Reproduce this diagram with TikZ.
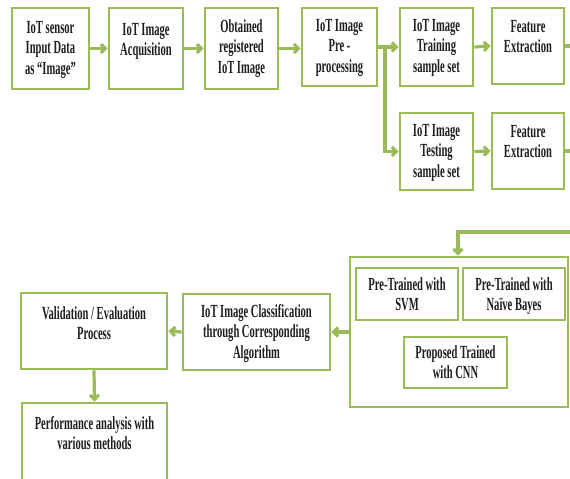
\documentclass[tikz,border=0pt]{standalone}
\usepackage{fontspec}
\setmainfont[FakeStretch=0.57]{Liberation Serif}
\usetikzlibrary{arrows.meta,fit}
\definecolor{boxgreen}{HTML}{9BBB59}
\definecolor{txt}{HTML}{1E1E1E}
\tikzset{
  boxs/.style={draw=boxgreen, line width=2.8pt, inner sep=0pt, fill=white},
  lbl/.style={anchor=north, align=center, inner sep=0pt, text=txt,
     font=\fontsize{18.5}{20.5}\selectfont\bfseries},
  conn/.style={draw=boxgreen, line width=3.2pt},
  arr/.style={conn, -{Straight Barb[length=4.5pt,width=9pt]}},
}
\begin{document}
\begin{tikzpicture}[x=1pt,y=-1pt]
\useasboundingbox (0,0) rectangle (570,479);
\clip (0,0) rectangle (570,479);
% top row
\node (b1) [boxs, fit={(12,8)(89,89)}] {};
\node (b2) [boxs, fit={(109,8)(183,89)}] {};
\node (b3) [boxs, fit={(205,8)(278,89)}] {};
\node (b4) [boxs, fit={(302,8)(377,86)}] {};
\node (b5) [boxs, fit={(400,8)(473,86)}] {};
\node (b6) [boxs, fit={(492,8)(564,84)}] {};
\node (b7) [boxs, fit={(400,113)(473,190)}] {};
\node (b8) [boxs, fit={(492,113)(564,189)}] {};
\node (t1) [lbl] at (50.5,21) {IoT sensor\\Input Data\\as “Image”};
\node (t2) [lbl] at (146,23) {IoT Image\\Acquisition};
\node (t3) [lbl] at (241.5,19) {Obtained\\registered\\IoT Image};
\node (t4) [lbl] at (339.5,19) {IoT Image\\Pre -\\processing};
\node (t5) [lbl] at (436.5,19) {IoT Image\\Training\\sample set};
\node (t6) [lbl] at (528,20) {Feature\\Extraction};
\node (t7) [lbl] at (436.5,124) {IoT Image\\Testing\\sample set};
\node (t8) [lbl] at (528,125) {Feature\\Extraction};
% lower part
\node (big) [boxs, fit={(350,257)(568,407)}] {};
\node (svm) [boxs, fit={(356,268)(458,320)}] {};
\node (nb)  [boxs, fit={(463,268)(565,320)}] {};
\node (cnn) [boxs, fit={(404,337)(507,388)}] {};
\node (cls) [boxs, fit={(183,294)(330,370)}] {};
\node (val) [boxs, fit={(21,293)(167,369)}] {};
\node (perf) [boxs, fit={(22,403)(167,495)}] {};
\node (t9)  [lbl] at (407,277) {Pre-Trained with\\SVM};
\node (t10) [lbl] at (514,277) {Pre-Trained with\\Naïve Bayes};
\node (t11) [lbl] at (455.5,345) {Proposed Trained\\with CNN};
\node (t12) [lbl] at (256.5,304) {IoT Image Classification\\through Corresponding\\Algorithm};
\node (t13) [lbl] at (94,306) {Validation / Evaluation\\Process};
\node (t14) [lbl] at (94.5,416) {Performance analysis with\\various methods};
% connectors
\coordinate (br) at (385,47);
\coordinate (o1) at (580,46);
\coordinate (o2) at (580,151);
\coordinate (r1) at (580,232);
\coordinate (r2) at (458,232);
\draw[arr] (b1.east) -- (b2.west);
\draw[arr] (b2.east) -- (b3.west);
\draw[arr] (b3.east) -- (b3.east -| b4.west);
\draw[conn] (b4.east) -- (br);
\draw[arr] (br) -- (b5.west);
\draw[arr] (br) |- (b7.west);
\draw[arr] (b5.east) -- (b6.west);
\draw[arr] (b7.east) -- (b8.west);
\draw[conn] (b6.east) -- (o1);
\draw[conn] (b8.east) -- (o2);
\draw[arr] (r1) -- (r2) -- (r2 |- big.north);
\draw[arr] (big.west) -- (cls.east);
\draw[arr] (cls.west) -- (val.east);
\draw[arr] (val.south) -- (perf.north);
\end{tikzpicture}
\end{document}
